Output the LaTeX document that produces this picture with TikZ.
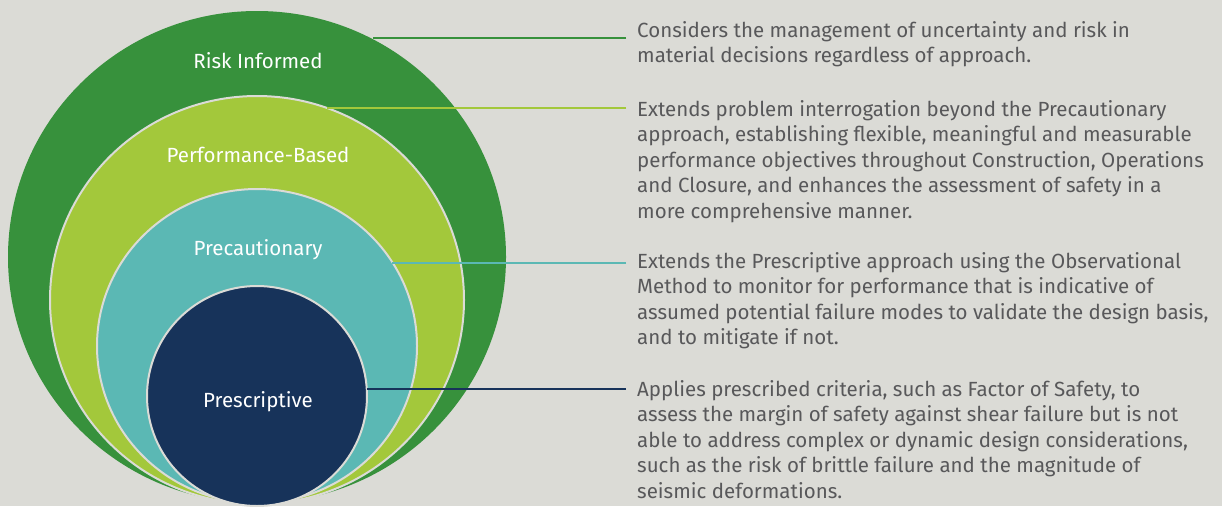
\documentclass[tikz,border=0pt]{standalone}
\usepackage{fontspec}
\setmainfont{Fira Sans}
\usetikzlibrary{shapes.geometric}
\definecolor{bgGrey}{HTML}{DBDBD6}
\definecolor{riskGreen}{HTML}{37913C}
\definecolor{perfGreen}{HTML}{A3C83B}
\definecolor{precTeal}{HTML}{5BB8B4}
\definecolor{presNavy}{HTML}{17335A}
\definecolor{descGrey}{HTML}{58585A}

\begin{document}
\begin{tikzpicture}[x=1pt,y=-1pt,
  ring/.style={ellipse,inner sep=0pt,outer sep=0pt,draw=bgGrey,line width=2pt},
  ringlabel/.style={font=\fontsize{20.5}{22}\selectfont,text=white,anchor=base,inner sep=0pt},
  desc/.style={font=\fontsize{20.5}{25.5}\selectfont,text=descGrey,align=left,anchor=base west,inner sep=0pt},
  lead/.style={line width=2pt}]
\fill[bgGrey] (0,0) rectangle (1222,506);
\useasboundingbox (0,0) rectangle (1222,506);

% nested approaches, outermost first
\node[ring,draw=none,fill=riskGreen,minimum width=498pt,minimum height=492pt] (risk) at (257,257) {};
\node[ring,fill=perfGreen,minimum width=414pt,minimum height=408pt] (perf) at (257,300) {};
\node[ring,fill=precTeal,minimum width=320pt,minimum height=314pt] (prec) at (257,346) {};
\node[ring,fill=presNavy,minimum width=220pt,minimum height=220pt] (pres) at (257,396) {};

\node[ringlabel] (tRisk) at (258,68) {Risk Informed};
\node[ringlabel] (tPerf) at (258,162) {Performance-Based};
\node[ringlabel] (tPrec) at (258,255) {Precautionary};
\node[ringlabel] (tPres) at (258,407) {Prescriptive};

% descriptions (base = last line)
\node[desc] (dRisk) at (637,62.8) {Considers the management of uncertainty and risk in\\
material decisions regardless of approach.};
\node[desc] (dPerf) at (637,218) {Extends problem interrogation beyond the Precautionary\\
approach, establishing flexible, meaningful and measurable\\
performance objectives throughout Construction, Operations\\
and Closure, and enhances the assessment of safety in a\\
more comprehensive manner.};
\node[desc] (dPrec) at (637,344.5) {Extends the Prescriptive approach using the Observational\\
Method to monitor for performance that is indicative of\\
assumed potential failure modes to validate the design basis,\\
and to mitigate if not.};
\node[desc] (dPres) at (637,498) {Applies prescribed criteria, such as Factor of Safety, to\\
assess the margin of safety against shear failure but is not\\
able to address complex or dynamic design considerations,\\
such as the risk of brittle failure and the magnitude of\\
seismic deformations.};

\coordinate (eRisk) at (626,38.3);
\coordinate (ePerf) at (626,108);
\coordinate (ePrec) at (626,263);
\coordinate (ePres) at (626,389);

% leader lines
\draw[lead,riskGreen] (eRisk) -- (eRisk -| risk.62);
\draw[lead,perfGreen] (ePerf) -- (ePerf -| perf.70);
\draw[lead,precTeal] (ePrec) -- (ePrec -| prec.32);
\draw[lead,presNavy] (ePres) -- (ePres -| pres.4);

\end{tikzpicture}
\end{document}
